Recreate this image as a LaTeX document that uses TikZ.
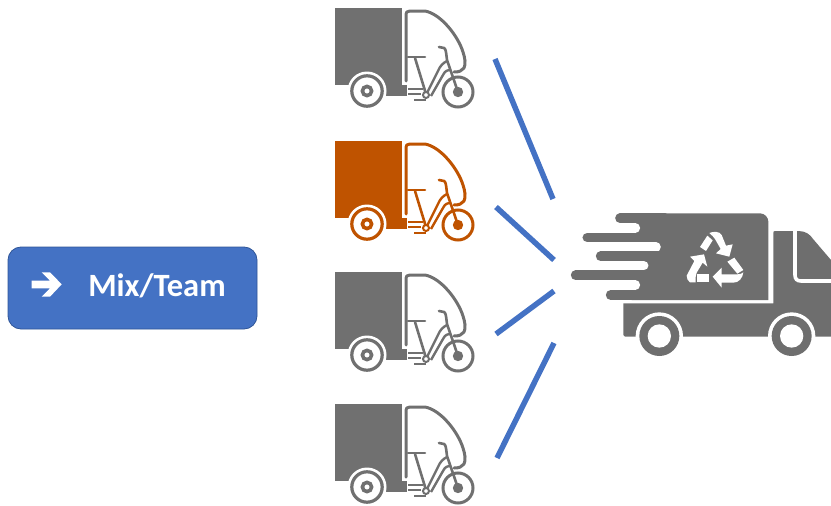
\documentclass[tikz,border=0pt]{standalone}
\usepackage{fontspec}
\setmainfont{Carlito}
\definecolor{bikegray}{HTML}{707070}
\definecolor{bikeorange}{HTML}{BF5300}
\definecolor{linkblue}{HTML}{4472C4}
\definecolor{linkedge}{HTML}{2F5597}
\definecolor{truckgray}{HTML}{6E6E6E}
\tikzset{
  linkline/.style={draw=linkblue,line width=5.5pt},
  mixbutton/.style={draw=linkedge,line width=0.8pt,fill=linkblue,rounded corners=13pt,
    minimum width=249pt,minimum height=82pt,inner sep=0pt},
  mixlabel/.style={text=white,font=\bfseries\fontsize{32.5}{33}\selectfont,inner sep=0pt},
  pics/cargobike/.style={code={
    % cargo box
    \fill[#1] (0,0) rectangle (67,77);
    \fill[#1] (48,77) rectangle (72,88);
    \fill[white] (32,83) circle (19.5);
    % canopy
    \draw[#1,line width=3pt,line join=round,line cap=round]
      (71,73) -- (71,8) .. controls (71,4) and (72,3) .. (75,3) -- (90,3)
      .. controls (106,6) and (123,28) .. (128,44) .. controls (130,50) and (131,56) .. (129,60)
      .. controls (127,63) and (124,64) .. (119,64);
    % front wheel
    \draw[#1,line width=3.2pt] (32,83) circle (15.2);
    \draw[#1,line width=3.6pt] (32,83) circle (4.6);
    % rear wheel
    \draw[#1,line width=3pt] (123,84) circle (15);
    \fill[#1] (123,84) circle (5.2);
    % seat and post
    \draw[#1,line width=2.6pt,line cap=round] (73,49) -- (90,49);
    \draw[#1,line width=2.6pt] (80,50) -- (91,86);
    % handlebar and fork
    \draw[#1,line width=2.6pt,line cap=round,line join=round]
      (104,39) -- (109,40) .. controls (111,41) and (111,44) .. (112,52) -- (123,84);
    % frame
    \draw[#1,line width=2.4pt,line join=round] (92,85) -- (103,63) .. controls (105,58) and (108,55) .. (112,53);
    \draw[#1,line width=2.4pt,line join=round] (96,88) -- (108,67) .. controls (110,63) and (112,62) .. (116,62);
    % pedals and crank
    \draw[#1,line width=2pt] (73,81) -- (88,81) (73,86) -- (86,86) (79,92) -- (91,92);
    \draw[#1,line width=2pt,fill=white] (91,87) circle (3);
  }}
}
\begin{document}
\begin{tikzpicture}[x=1pt,y=-1pt]
\useasboundingbox (0,0) rectangle (831,506);
% button
\node[mixbutton] (button) at (132.5,288) {};
\fill[white] (31.7,280.7) -- (50,280.7) -- (41.7,272.3) -- (50,272.3) -- (61.7,284.3)
  -- (50,296.7) -- (41.7,296.7) -- (50,288.3) -- (31.7,288.3) -- cycle;
\node[mixlabel] (mixtext) at (157,286) {Mix/Team};
% bikes
\pic (bikeA) at (335,8) {cargobike=bikegray};
\pic (bikeB) at (335,141) {cargobike=bikeorange};
\pic (bikeC) at (335,272) {cargobike=bikegray};
\pic (bikeD) at (335,404) {cargobike=bikegray};
% links
\coordinate (a1) at (495,59);  \coordinate (a2) at (553,199);
\coordinate (b1) at (496,207); \coordinate (b2) at (554,260);
\coordinate (c1) at (496,334); \coordinate (c2) at (554,291);
\coordinate (d1) at (497,458); \coordinate (d2) at (554,343);
\draw[linkline] (a1) -- (a2);
\draw[linkline] (b1) -- (b2);
\draw[linkline] (c1) -- (c2);
\draw[linkline] (d1) -- (d2);
% truck (drawn in 1/3 px units)
\begin{scope}[xshift=565pt,yshift=-205pt,x=0.33333pt,y=-0.33333pt]
  \clip (0,0) rectangle (798,480);
  % cargo body
  \fill[truckgray] (200,25) -- (585,25) .. controls (600,25) and (610,38) .. (610,50)
     -- (610,285) -- (200,285) -- cycle;
  % notches between the speed lines
  \draw[white,line width=9.6pt,line cap=round] (170,69) -- (211,69) (170,126) -- (273,126)
     (170,182) -- (236,182) (170,240) -- (211,240);
  % speed lines
  \draw[truckgray,line width=9.7pt,line cap=round]
     (165,40) -- (300,40) (67,97.5) -- (300,97.5) (107,154) -- (300,154)
     (32,211) -- (300,211) (137,270) -- (300,270);
  % cab and chassis
  \fill[truckgray] (625,84) .. controls (625,80) and (626,78) .. (630,78) -- (700,78)
     .. controls (722,78) and (735,88) .. (745,103) -- (798,165) -- (798,395)
     -- (180,395) -- (175,390) -- (175,295) -- (625,295) -- cycle;
  % window outline
  \draw[white,line width=3.6pt] (690,70) -- (690,210) .. controls (690,222) and (696,228) .. (708,228) -- (810,228);
  % wheels
  \foreach \wx in {283,680}{
    \fill[white] (\wx,393) circle (71);
    \fill[truckgray] (\wx,393) circle (60);
    \fill[white] (\wx,393) circle (35);
  }
  % recycling symbol
  \begin{scope}[shift={(345,60)}]
    \fill[white] (60,66) -- (82,32) -- (98,46) -- (78,78) -- cycle;
    \fill[white] (88,24) .. controls (100,19) and (118,18) .. (125,30) -- (138,62) -- (158,58)
       -- (148,95) -- (108,85) -- (122,72) -- (105,42) .. controls (102,36) and (96,32) .. (88,24) -- cycle;
    \fill[white] (30,95) -- (72,88) -- (82,125) -- (68,113) -- (50,143)
       .. controls (46,152) and (46,162) .. (47,172) -- (30,172) .. controls (24,168) and (20,162) .. (20,152)
       -- (43,108) -- cycle;
    \fill[white] (50,148) -- (88,148) -- (88,172) -- (50,172) -- cycle;
    \fill[white] (142,110) -- (163,98) -- (190,135) -- (172,146) -- cycle;
    \fill[white] (98,155) -- (125,128) -- (125,148) -- (172,148) .. controls (180,148) and (186,146) .. (190,142)
       .. controls (188,160) and (176,173) .. (160,173) -- (125,173) -- (125,188) -- cycle;
  \end{scope}
\end{scope}
\end{tikzpicture}
\end{document}
